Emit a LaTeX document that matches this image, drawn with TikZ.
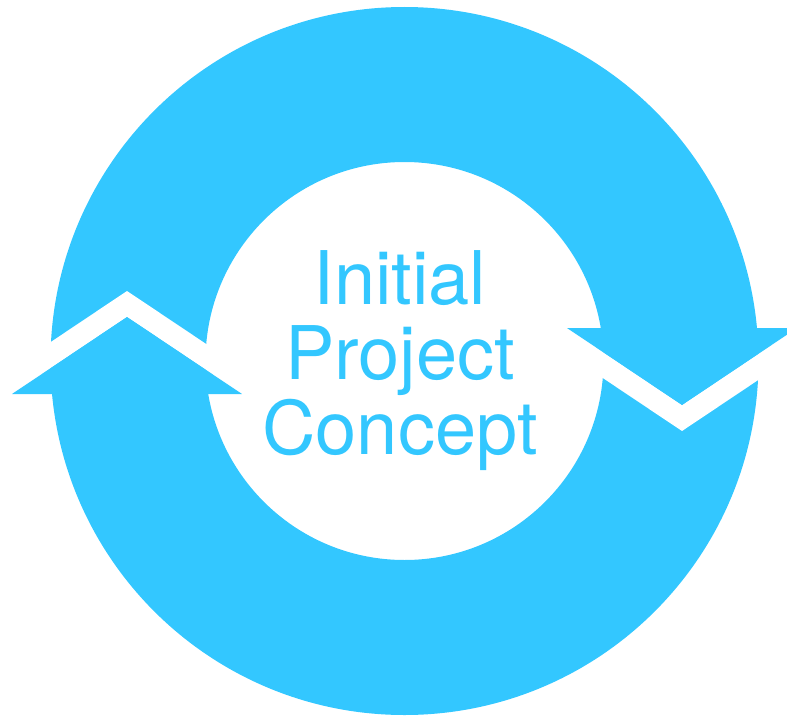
\documentclass[tikz,border=0pt]{standalone}
\usepackage{fontspec}
\usepackage{xcolor}
\newfontfamily\conceptfont{TeX Gyre Heros}
\definecolor{cyclecyan}{RGB}{51,199,255}

\begin{document}
\begin{tikzpicture}[x=1pt, y=-1pt, line join = round, line cap = round]

        \useasboundingbox (0,0) rectangle (787,717);

        % ring
        \coordinate (c) at (404.5,361);
        \fill[cyclecyan, even odd rule] (c) circle [radius=354] (c) circle [radius=199];

        % arrow heads, the second one turned half round the centre
        \foreach \turn in {0,180} {
            \begin{scope}[rotate around={\turn:(c)}]
                \coordinate (tip) at (127,317);
                \coordinate (baseL) at (12,394);
                \coordinate (baseR) at (242,394);
                \fill[white] (0,402) -- (127,317) -- (260,406) -- (260,380) -- (127,291) -- (0,376) -- cycle;
                \fill[cyclecyan] (baseL) -- (tip) -- (baseR) -- cycle;
            \end{scope}
        }

        % label
        \node[text=cyclecyan, font=\conceptfont\fontsize{74}{75}\selectfont, align=center, inner sep=0pt] (concept) at (400,361) {Initial\\Project\\Concept};

\end{tikzpicture}
\end{document}
